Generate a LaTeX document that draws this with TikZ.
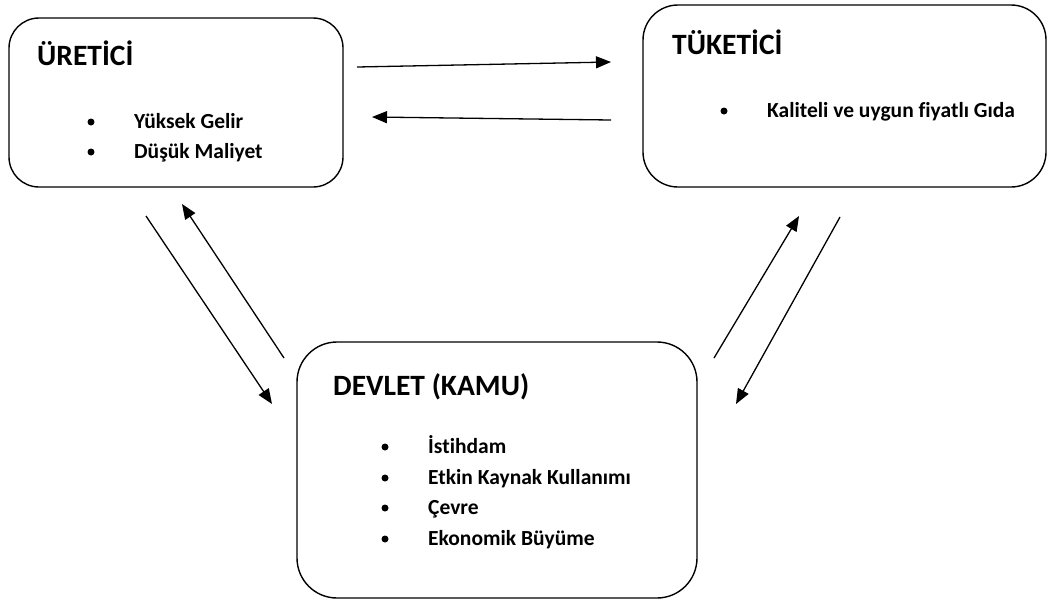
\documentclass[tikz,border=0pt]{standalone}
\usepackage{fontspec}
\setmainfont{Carlito}[Ligatures=CommonOff]
\usetikzlibrary{arrows.meta}
\begin{document}
\begin{tikzpicture}[x=1pt,y=-1pt,
  box/.style={draw,line width=1.4pt,inner sep=0pt},
  title/.style={anchor=base west,inner sep=0pt,font=\fontsize{29.5}{32}\selectfont\bfseries},
  item/.style={anchor=base west,inner sep=0pt,font=\fontsize{21.5}{24}\selectfont\bfseries},
  bul/.style={circle,fill,inner sep=0pt,minimum size=7pt},
  conn/.style={line width=1.3pt,-{Triangle[length=15pt,width=12pt]}}]
\useasboundingbox (0,0) rectangle (1048,603);
% boxes
\node[box,rounded corners=30pt,minimum width=334pt,minimum height=169pt] (ure) at (176,102.5) {};
\node[box,rounded corners=35pt,minimum width=403pt,minimum height=182pt] (tuk) at (844.5,96) {};
\node[box,rounded corners=40pt,minimum width=400pt,minimum height=256pt] (dev) at (497,470) {};
% texts
\node[title] (ureT) at (37,65) {ÜRETİCİ};
\node[bul] (b1) at (91,122) {};
\node[item] (u1) at (134,128) {Yüksek Gelir};
\node[bul] (b2) at (91,152) {};
\node[item] (u2) at (134,158) {Düşük Maliyet};
\node[title] (tukT) at (672,54) {TÜKETİCİ};
\node[bul] (b3) at (724,111) {};
\node[item] (t1) at (767,117) {Kaliteli ve uygun fiyatlı Gıda};
\node[title] (devT) at (333,395) {DEVLET (KAMU)};
\node[bul] (b4) at (385,447) {};
\node[item] (d1) at (428,453) {İstihdam};
\node[bul] (b5) at (385,478) {};
\node[item] (d2) at (428,484) {Etkin Kaynak Kullanımı};
\node[bul] (b6) at (385,508) {};
\node[item] (d3) at (428,514) {Çevre};
\node[bul] (b7) at (385,539) {};
\node[item] (d4) at (428,545) {Ekonomik Büyüme};
% connector endpoints
\coordinate (a1s) at (357,67);  \coordinate (a1e) at (611,62);
\coordinate (a2s) at (611,120); \coordinate (a2e) at (372,117);
\coordinate (a3s) at (146,216); \coordinate (a3e) at (272,404);
\coordinate (a4s) at (284,358); \coordinate (a4e) at (182,204);
\coordinate (a5s) at (714,358); \coordinate (a5e) at (799,216);
\coordinate (a6s) at (840,217); \coordinate (a6e) at (736,404);
\draw[conn] (a1s) -- (a1e);
\draw[conn] (a2s) -- (a2e);
\draw[conn] (a3s) -- (a3e);
\draw[conn] (a4s) -- (a4e);
\draw[conn] (a5s) -- (a5e);
\draw[conn] (a6s) -- (a6e);
\end{tikzpicture}
\end{document}
